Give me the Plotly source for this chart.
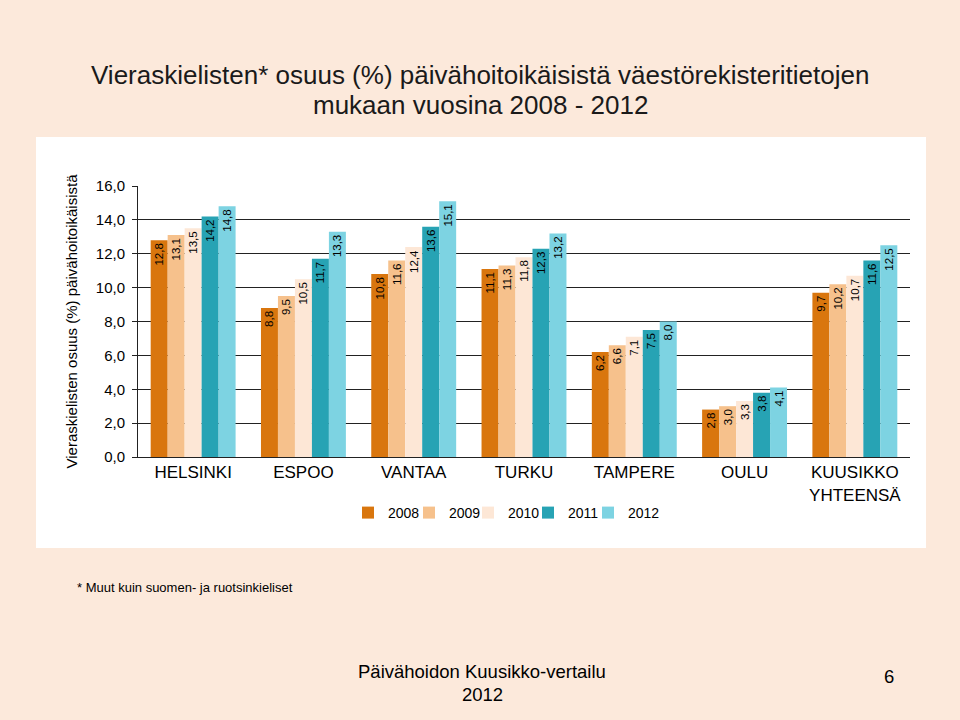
import plotly.graph_objects as go

categories = ["HELSINKI", "ESPOO", "VANTAA", "TURKU", "TAMPERE", "OULU", "KUUSIKKO<br>YHTEENSÄ"]
years = ["2008", "2009", "2010", "2011", "2012"]
values = {
    "2008": [12.8, 8.8, 10.8, 11.1, 6.2, 2.8, 9.7],
    "2009": [13.1, 9.5, 11.6, 11.3, 6.6, 3.0, 10.2],
    "2010": [13.5, 10.5, 12.4, 11.8, 7.1, 3.3, 10.7],
    "2011": [14.2, 11.7, 13.6, 12.3, 7.5, 3.8, 11.6],
    "2012": [14.8, 13.3, 15.1, 13.2, 8.0, 4.1, 12.5],
}
colors = {"2008": "#D9760E", "2009": "#F6C18C", "2010": "#FDE7D6", "2011": "#27A3B4", "2012": "#7DD3E2"}
legend_text_x = [388, 449, 508, 568, 628]

FONT = "Liberation Sans, Arial, sans-serif"
L, R, T, B = 138, 50, 186, 263
PW, PH = 960 - L - R, 720 - T - B


def px(x):
    return (x - L) / PW


def py(y):
    return (720 - B - y) / PH


fig = go.Figure()
legend_layout = {}
for i, y in enumerate(years):
    lname = "legend" if i == 0 else f"legend{i + 1}"
    fig.add_trace(go.Bar(
        x=categories, y=values[y], name=y, legend=lname,
        marker=dict(color=colors[y], line=dict(width=0)),
        text=[f"{v:.1f}".replace(".", ",") for v in values[y]],
        textposition="inside", insidetextanchor="end", textangle=-90,
        constraintext="none",
        textfont=dict(family=FONT, size=11.5, color="#000000"),
    ))
    legend_layout[lname] = dict(
        orientation="h", x=px(legend_text_x[i] - 40), xanchor="left",
        y=py(513), yanchor="middle", font=dict(size=14),
        bgcolor="rgba(0,0,0,0)", itemwidth=30, itemclick=False)

fig.update_layout(
    width=960, height=720,
    barmode="group", bargap=0.23, bargroupgap=0,
    paper_bgcolor="#FCE9DB", plot_bgcolor="#FFFFFF",
    margin=dict(l=L, r=R, t=T, b=B),
    font=dict(family=FONT, color="#000000"),
    showlegend=True,
    shapes=[dict(type="rect", xref="paper", yref="paper", layer="below",
                 x0=px(36), x1=px(926), y0=py(548), y1=py(137),
                 fillcolor="#FFFFFF", line=dict(width=0))],
    annotations=[
        dict(text="Vieraskielisten* osuus (%) päivähoitoikäisistä väestörekisteritietojen",
             xref="paper", yref="paper", x=px(480), y=py(75), yanchor="middle",
             showarrow=False, font=dict(size=26, color="#1a1a1a")),
        dict(text="mukaan vuosina 2008 - 2012",
             xref="paper", yref="paper", x=px(480), y=py(105), yanchor="middle",
             showarrow=False, font=dict(size=26, color="#1a1a1a")),
        dict(text="* Muut kuin suomen- ja ruotsinkieliset", xref="paper", yref="paper",
             x=px(75), y=py(587), xanchor="left", yanchor="middle",
             showarrow=False, font=dict(size=13)),
        dict(text="Päivähoidon Kuusikko-vertailu", xref="paper", yref="paper",
             x=px(482), y=py(671), yanchor="middle",
             showarrow=False, font=dict(size=18.5)),
        dict(text="2012", xref="paper", yref="paper",
             x=px(482), y=py(694), yanchor="middle",
             showarrow=False, font=dict(size=18.5)),
        dict(text="6", xref="paper", yref="paper",
             x=px(896), y=py(676), yanchor="middle",
             showarrow=False, font=dict(size=18.5)),
    ],
    **legend_layout,
)
fig.update_xaxes(showline=True, linecolor="#222222", linewidth=1, ticks="",
                 tickfont=dict(size=17), fixedrange=True)
fig.update_yaxes(range=[0, 16], dtick=2, tickformat=".1f",
                 showgrid=True, gridcolor="#222222", gridwidth=1, zeroline=False,
                 showline=True, linecolor="#222222", linewidth=1,
                 ticks="outside", ticklen=5, tickcolor="#222222",
                 tickfont=dict(size=15), ticklabelstandoff=4,
                 title=dict(text="Vieraskielisten osuus (%) päivähoitoikäisistä",
                            font=dict(size=15), standoff=14))
fig.update_layout(separators=", ")
fig.write_html("out.html")
